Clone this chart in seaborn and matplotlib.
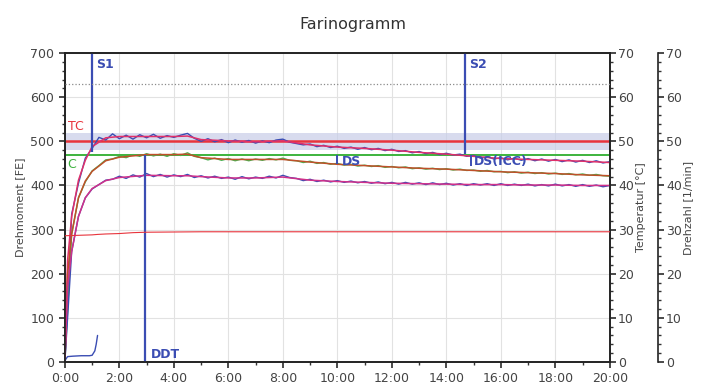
import numpy as np
import matplotlib
matplotlib.use("Agg")
import matplotlib.pyplot as plt
import seaborn as sns
from matplotlib.ticker import MultipleLocator, FuncFormatter

# time grid of the raw torque samples [min]
raw_t = np.arange(0, 20.01, 0.25)

# raw torque traces [FE]
upper_raw = [0, 335, 405, 462, 484, 509, 503, 517, 506, 514, 505, 515, 508, 516, 507, 513,
             509, 514, 518, 507, 500, 506, 499, 504, 497, 503, 498, 502, 496, 501, 497, 503,
             505, 498, 495, 492, 494, 488, 491, 486, 489, 484, 487, 482, 486, 481, 484, 479,
             482, 477, 479, 474, 477, 472, 475, 470, 473, 469, 471, 466, 468, 462, 465, 460,
             463, 458, 462, 457, 461, 456, 460, 455, 459, 454, 458, 453, 457, 452, 456, 451, 454]
middle_raw = [0, 290, 372, 408, 433, 445, 458, 460, 466, 463, 470, 466, 472, 467, 471, 466,
              472, 468, 474, 466, 463, 458, 462, 457, 461, 456, 460, 456, 460, 457, 461, 458,
              462, 457, 456, 452, 455, 450, 452, 448, 450, 446, 448, 444, 446, 443, 445, 441,
              443, 440, 442, 438, 440, 437, 439, 436, 438, 435, 437, 434, 435, 432, 434, 431,
              432, 429, 431, 428, 430, 427, 429, 426, 428, 425, 427, 424, 426, 423, 425, 422, 421]
lower_raw = [0, 250, 330, 372, 392, 402, 412, 414, 421, 416, 424, 419, 427, 420, 425, 419,
             424, 420, 425, 418, 422, 417, 421, 416, 419, 414, 420, 415, 419, 416, 421, 417,
             423, 418, 416, 411, 414, 409, 412, 408, 411, 407, 410, 406, 409, 405, 408, 404,
             407, 403, 407, 403, 406, 402, 406, 402, 405, 401, 404, 400, 404, 401, 404, 400,
             404, 400, 403, 400, 403, 399, 402, 399, 403, 399, 402, 398, 402, 398, 401, 397, 400]

# smoothed torque curves [FE]
fit_t = [0, 0.1, 0.25, 0.5, 0.75, 1, 1.5, 2, 3, 4, 4.5, 5, 6, 7, 8, 9, 10, 11, 12, 13, 14,
         15, 16, 17, 18, 19, 20]
upper_fit = [0, 230, 330, 412, 457, 488, 508, 511, 511, 511, 512, 504, 501, 499, 501, 492,
             487, 484, 480, 475, 471, 466, 461, 459, 457, 455, 452]
middle_fit = [0, 200, 290, 372, 410, 432, 456, 464, 470, 470, 471, 463, 459, 459, 459, 453,
              448, 445, 442, 439, 437, 434, 431, 429, 427, 424, 422]
lower_fit = [0, 170, 250, 330, 372, 393, 411, 418, 423, 422, 422, 420, 417, 417, 419, 412,
             409, 407, 405, 404, 403, 402, 402, 401, 401, 400, 400]

# temperature [°C] and speed [1/min]
temp_t = [0, 0.5, 1.0, 1.2, 1.5, 2, 2.5, 3, 5, 10, 15, 20]
temp_val = [28.6, 28.7, 28.8, 28.9, 29.0, 29.1, 29.3, 29.4, 29.5, 29.5, 29.5, 29.5]
speed_t = [0, 5, 10, 15, 20]
speed_val = [63, 63, 63, 63, 63]

# small trace near the bottom
water_t = [0, 0.1, 0.3, 0.6, 0.9, 1.0, 1.1, 1.15, 1.2]
water_val = [3, 12, 13, 14, 14, 15, 25, 40, 60]

# reference levels and markers
tc_level = 500
tc_band = [480, 520]
c_level = 470
s1_t, s1_low = 1.0, 475
s2_t, s2_low = 14.7, 472
ddt_t, ddt_high = 2.95, 470
ds_t, ds_range = 10.0, [470, 448]
dsicc_t, dsicc_range = 14.9, [469, 443]

BLUE = "#3b4db3"
RED = "#e8343c"
GREEN = "#3db33d"
TXT = "#444444"

sns.set_theme(style="ticks")
plt.rcParams['font.family'] = ['DejaVu Sans']

fig = plt.figure(figsize=(7.05, 3.85), dpi=100)
ax = fig.add_axes([0.092, 0.06, 0.773, 0.802])

ax.axhspan(tc_band[0], tc_band[1], color="#c8cde8", alpha=0.7, lw=0, zorder=1)
ax.axhline(tc_level, color=RED, lw=1.8, zorder=2)
ax.axhline(c_level, color=GREEN, lw=1.4, zorder=2)

sns.lineplot(x=raw_t, y=upper_raw, ax=ax, color=BLUE, lw=1.0, zorder=3)
sns.lineplot(x=raw_t, y=middle_raw, ax=ax, color="#4caf50", lw=1.0, zorder=3)
sns.lineplot(x=raw_t, y=lower_raw, ax=ax, color=BLUE, lw=1.0, zorder=3)
sns.lineplot(x=fit_t, y=upper_fit, ax=ax, color="#e0306a", lw=1.1, zorder=4)
sns.lineplot(x=fit_t, y=middle_fit, ax=ax, color="#c0502a", lw=1.1, zorder=4)
sns.lineplot(x=fit_t, y=lower_fit, ax=ax, color="#d0308a", lw=1.1, zorder=4)
sns.lineplot(x=water_t, y=water_val, ax=ax, color=BLUE, lw=1.0, zorder=4)

ax.vlines(s1_t, s1_low, 700, color=BLUE, lw=1.6, zorder=5)
ax.vlines(s2_t, s2_low, 700, color=BLUE, lw=1.6, zorder=5)
ax.vlines(ddt_t, 0, ddt_high, color=BLUE, lw=1.6, zorder=5)
ax.vlines(ds_t, ds_range[1], ds_range[0], color=BLUE, lw=1.4, zorder=5)
ax.vlines(dsicc_t, dsicc_range[1], dsicc_range[0], color=BLUE, lw=1.4, zorder=5)

lab = dict(color=BLUE, fontsize=9, fontweight="bold", zorder=6)
ax.text(s1_t + 0.15, 690, "S1", va="top", ha="left", **lab)
ax.text(s2_t + 0.15, 690, "S2", va="top", ha="left", **lab)
ax.text(ddt_t + 0.2, 2, "DDT", va="bottom", ha="left", **lab)
ax.text(ds_t + 0.15, 468, "DS", va="top", ha="left", **lab)
ax.text(dsicc_t + 0.12, 468, "DS(ICC)", va="top", ha="left", **lab)
ax.text(0.1, 518, "TC", color=RED, fontsize=9, va="bottom", ha="left", zorder=6)
ax.text(0.1, 463, "C", color=GREEN, fontsize=9, va="top", ha="left", zorder=6)

ax.set_xlim(0, 20)
ax.set_ylim(0, 700)
ax.xaxis.set_major_locator(MultipleLocator(2))
ax.xaxis.set_minor_locator(MultipleLocator(1))
ax.xaxis.set_major_formatter(FuncFormatter(lambda v, p: f"{int(round(v))}:00"))
ax.yaxis.set_major_locator(MultipleLocator(100))
ax.yaxis.set_minor_locator(MultipleLocator(20))
ax.grid(True, which="major", color="#e2e2e2", lw=0.8, zorder=0)
ax.set_axisbelow(True)
ax.set_xlabel("")
ax.set_ylabel("Drehmoment [FE]", fontsize=8, color=TXT, labelpad=4)
ax.tick_params(axis="both", which="major", labelsize=9, colors="#333333", labelcolor=TXT, length=4)
ax.tick_params(axis="both", which="minor", length=2, colors="#333333")
for s in ax.spines.values():
    s.set_color("#222222")
    s.set_linewidth(1.2)

# temperature axis
ax2 = ax.twinx()
sns.lineplot(x=temp_t, y=temp_val, ax=ax2, color=RED, lw=0.8, zorder=3)
ax2.set_ylim(0, 70)
ax2.yaxis.set_major_locator(MultipleLocator(10))
ax2.yaxis.set_minor_locator(MultipleLocator(2))
ax2.set_ylabel("Temperatur [°C]", fontsize=8, color=TXT, labelpad=1)
ax2.tick_params(axis="y", which="major", labelsize=9, colors="#333333", labelcolor=TXT,
                length=4, pad=2, left=False, right=True)
ax2.tick_params(axis="y", which="minor", length=2, colors="#333333", left=False, right=True)
for s in ax2.spines.values():
    s.set_color("#222222")
    s.set_linewidth(1.2)

# speed axis
ax3 = ax.twinx()
sns.lineplot(x=speed_t, y=speed_val, ax=ax3, color="#8a8a8a", lw=0.9, ls=":", zorder=3)
ax3.set_ylim(0, 70)
ax3.spines["right"].set_position(("outward", 34.5))
for side in ["top", "left", "bottom"]:
    ax3.spines[side].set_visible(False)
ax3.spines["right"].set_color("#222222")
ax3.spines["right"].set_linewidth(1.2)
ax3.yaxis.set_major_locator(MultipleLocator(10))
ax3.yaxis.set_minor_locator(MultipleLocator(2))
ax3.set_ylabel("Drehzahl [1/min]", fontsize=8, color=TXT, labelpad=1)
ax3.tick_params(axis="y", which="major", labelsize=9, colors="#333333", labelcolor=TXT,
                length=4, pad=2, left=False, right=True)
ax3.tick_params(axis="y", which="minor", length=2, colors="#333333", left=False, right=True)

fig.suptitle("Farinogramm", y=0.955, fontsize=11.5, color="#333333")

fig.savefig("out.png", dpi=100)
